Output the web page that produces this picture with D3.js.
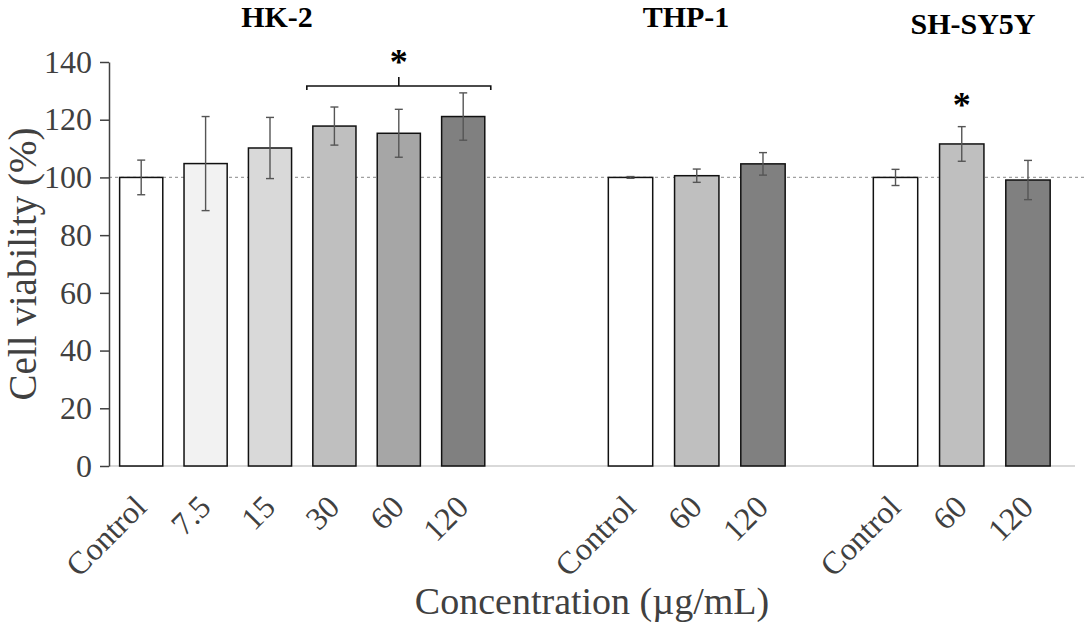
<!DOCTYPE html>
<html>
<head>
<meta charset="utf-8">
<script src="https://cdn.jsdelivr.net/npm/d3@7"></script>
<style>
  body { margin: 0; background: #fff; }
  text { font-family: "Liberation Serif", "Times New Roman", serif; }
</style>
</head>
<body>
<div id="chart"></div>
<script>
// cell lines and their concentrations
const groups = ["HK-2", "THP-1", "SH-SY5Y"];
const hkDoses = ["Control", "7.5", "15", "30", "60", "120"];
const hkMeans = [100, 104.8, 110.2, 117.8, 115.3, 121.1];
const hkErrors = [6.0, 16.3, 10.6, 6.6, 8.3, 8.2];
const hkColors = ["#ffffff", "#f2f2f2", "#d9d9d9", "#bfbfbf", "#a6a6a6", "#808080"];

const thpDoses = ["Control", "60", "120"];
const thpMeans = [100, 100.6, 104.7];
const thpErrors = [0.3, 2.3, 3.9];

const shDoses = ["Control", "60", "120"];
const shMeans = [100, 111.6, 99.1];
const shErrors = [2.8, 6.0, 6.8];
const smallColors = ["#ffffff", "#bfbfbf", "#808080"];

const yTicks = [0, 20, 40, 60, 80, 100, 120, 140];

const width = 1084, height = 631;

const svg = d3.select("#chart").append("svg")
    .attr("width", width)
    .attr("height", height);

const y = d3.scaleLinear().domain([0, 140]).range([466, 62]);

// each cell line gets its own band range along the x axis
const layout = [
    { name: groups[0], doses: hkDoses, means: hkMeans, errs: hkErrors, colors: hkColors, range: [109, 495.4], titleX: 277, titleY: 27 },
    { name: groups[1], doses: thpDoses, means: thpMeans, errs: thpErrors, colors: smallColors, range: [597.4, 796.1], titleX: 686, titleY: 27 },
    { name: groups[2], doses: shDoses, means: shMeans, errs: shErrors, colors: smallColors, range: [862.4, 1061.1], titleX: 973, titleY: 34 }
];

// light gray category baseline
svg.append("line")
    .attr("x1", 109).attr("x2", 1075)
    .attr("y1", y(0)).attr("y2", y(0))
    .attr("stroke", "#d9d9d9")
    .attr("stroke-width", 2);

// dotted reference at 100 %
svg.append("line")
    .attr("x1", 109).attr("x2", width)
    .attr("y1", y(100)).attr("y2", y(100))
    .attr("stroke", "#a0a0a0")
    .attr("stroke-width", 1.3)
    .attr("stroke-dasharray", "3,3");

layout.forEach(function (g) {
    const x = d3.scaleBand().domain(g.doses).range(g.range).paddingInner(0.33).paddingOuter(0.165);
    const rows = g.doses.map(function (d, i) {
        return { dose: d, mean: g.means[i], err: g.errs[i], color: g.colors[i] };
    });
    const grp = svg.append("g");

    grp.selectAll("rect").data(rows).enter().append("rect")
        .attr("x", d => x(d.dose))
        .attr("y", d => y(d.mean))
        .attr("width", x.bandwidth())
        .attr("height", d => y(0) - y(d.mean))
        .attr("fill", d => d.color)
        .attr("stroke", "#111")
        .attr("stroke-width", 1.5);

    const eb = grp.selectAll("g.err").data(rows).enter().append("g")
        .attr("class", "err")
        .attr("stroke", "#555")
        .attr("stroke-width", 1.4);
    eb.append("line")
        .attr("x1", d => x(d.dose) + x.bandwidth() / 2)
        .attr("x2", d => x(d.dose) + x.bandwidth() / 2)
        .attr("y1", d => y(d.mean + d.err))
        .attr("y2", d => y(d.mean - d.err));
    [1, -1].forEach(function (s) {
        eb.append("line")
            .attr("x1", d => x(d.dose) + x.bandwidth() / 2 - 4)
            .attr("x2", d => x(d.dose) + x.bandwidth() / 2 + 4)
            .attr("y1", d => y(d.mean + s * d.err))
            .attr("y2", d => y(d.mean + s * d.err));
    });

    // rotated dose labels
    grp.selectAll("text.lab").data(rows).enter().append("text")
        .attr("class", "lab")
        .attr("text-anchor", "end")
        .attr("font-size", 32)
        .attr("fill", "#404040")
        .attr("transform", d => "translate(" + (x(d.dose) + x.bandwidth() / 2 + 7) + "," + (y(0) + 43) + ") rotate(-45)")
        .text(d => d.dose);

    // group title
    svg.append("text")
        .attr("x", g.titleX).attr("y", g.titleY)
        .attr("text-anchor", "middle")
        .attr("font-size", 30)
        .attr("font-weight", "bold")
        .attr("fill", "#000")
        .text(g.name);

    g.x = x;
});

// y axis
const yAxis = svg.append("g")
    .attr("transform", "translate(109,0)")
    .call(d3.axisLeft(y).tickValues(yTicks).tickSize(9).tickSizeOuter(0).tickPadding(8));
yAxis.attr("font-family", null);
yAxis.select(".domain").attr("stroke", "#404040").attr("stroke-width", 1.5);
yAxis.selectAll(".tick line").attr("stroke", "#404040").attr("stroke-width", 1.5);
yAxis.selectAll(".tick text")
    .attr("font-size", 32)
    .attr("fill", "#404040");

// significance bracket over HK-2 30-120
const hx = layout[0].x;
const bx1 = hx("30") - 6, bx2 = hx("120") + hx.bandwidth() + 6;
const by = 86;
svg.append("path")
    .attr("d", "M" + bx1 + "," + (by + 4) + "V" + by + "H" + bx2 + "V" + (by + 4)
        + "M" + ((bx1 + bx2) / 2) + "," + by + "V" + (by - 9))
    .attr("fill", "none")
    .attr("stroke", "#111")
    .attr("stroke-width", 1.6);
svg.append("text")
    .attr("x", (bx1 + bx2) / 2).attr("y", 74)
    .attr("text-anchor", "middle")
    .attr("font-size", 36)
    .attr("font-weight", "bold")
    .text("*");

// asterisk over SH-SY5Y 60
const sx = layout[2].x;
svg.append("text")
    .attr("x", sx("60") + sx.bandwidth() / 2).attr("y", y(shMeans[1] + shErrors[1]) - 10)
    .attr("text-anchor", "middle")
    .attr("font-size", 36)
    .attr("font-weight", "bold")
    .text("*");

// axis titles
svg.append("text")
    .attr("transform", "translate(36,264) rotate(-90)")
    .attr("text-anchor", "middle")
    .attr("font-size", 39)
    .attr("fill", "#404040")
    .text("Cell viability (%)");

svg.append("text")
    .attr("x", 592).attr("y", 614)
    .attr("text-anchor", "middle")
    .attr("font-size", 38)
    .attr("fill", "#404040")
    .text("Concentration (\u00b5g/mL)");
</script>
</body>
</html>
